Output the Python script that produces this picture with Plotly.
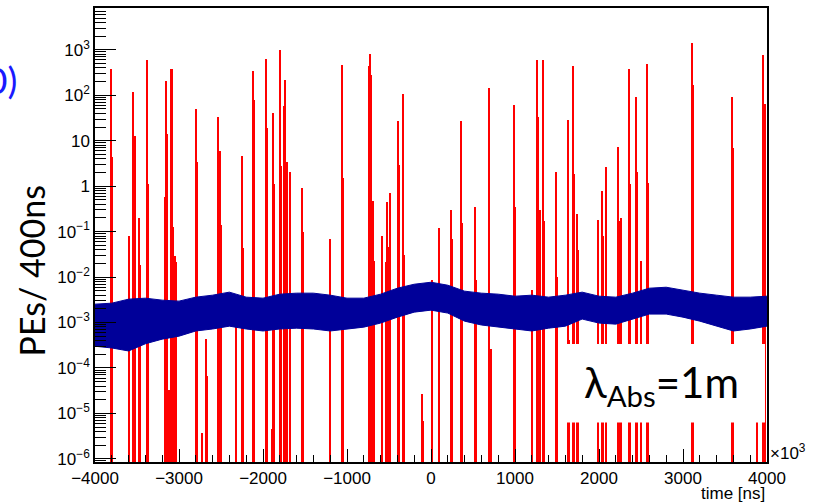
import plotly.graph_objects as go

# ---- data ----
# red histogram: isolated filled bins (time in ns, PEs per bin)
spike_time = [-3813, -3802, -3591, -3544, -3528, -3480, -3468, -3385, -3373, -3171,
              -3155, -3139, -3123, -3099, -3083, -3067, -3052, -3036, -2798, -2786,
              -2722, -2683, -2671, -2540, -2524, -2508, -2496, -2325, -2250, -2238,
              -2123, -2111, -1968, -1952, -1889, -1877, -1865, -1794, -1782, -1746,
              -1734, -1718, -1675, -1532, -1520, -1202, -1056, -1044, -742, -726,
              -710, -695, -679, -583, -540, -524, -508, -492, -397, -381,
              -337, -325, -111, -95, 8, 95, 238, 250, 353, 365,
              524, 540, 694, 710, 984, 996, 1202, 1258, 1270, 1301,
              1329, 1345, 1488, 1500, 1631, 1643, 1686, 1702, 1734, 1746,
              1992, 2032, 2044, 2079, 2222, 2234, 2266, 2353, 2365, 2436,
              2448, 2496, 2567, 2579, 3103, 3115, 3587, 3599, 3881, 3956,
              3972]
spike_pe = [384, 4.4, 0.079, 118, 13, 0.198, 0.0188, 584, 1.1, 0.59,
            206, 14, 3.2e-5, 384, 384, 0.126, 0.029, 0.021, 51, 3.45,
            3.7e-6, 4.3e-4, 6.7e-5, 33, 3.2, 6.0, 0.137, 1.64e-3, 4.7, 0.043,
            341, 78, 614, 18.6, 4.5e-6, 40, 1.1, 1000, 2.8, 57,
            220, 3.45, 2.1, 0.9, 0.096, 0.07, 454, 1.54, 431, 790,
            273, 0.48, 0.023, 0.079, 0.021, 0.44, 0.045, 0.72, 27, 2.9,
            105, 0.031, 2.7e-5, 6.9e-6, 8.8e-3, 0.12, 0.30, 0.07, 27, 0.154,
            0.34, 8.8e-3, 145, 2.6e-4, 60, 0.34, 5.3e-3, 584, 33, 0.30,
            584, 0.17, 2.1, 9.9e-3, 29, 4.1e-4, 431, 1.85, 0.25, 0.040,
            0.18, 0.79, 0.079, 2.7, 7.1, 0.17, 0.2, 384, 1.1, 92,
            2.0, 0.023, 493, 1.2, 1400, 171, 92, 6.8, 4.4e-5, 751,
            63]

# blue histogram: upper / lower envelope of the noise band
band_time = list(range(-4000, 4001, 200))
band_hi = [2.53e-3, 2.66e-3, 3.26e-3, 3.43e-3, 3.10e-3, 2.95e-3, 3.61e-3, 3.99e-3, 4.65e-3, 3.61e-3,
           3.43e-3, 4.20e-3, 4.42e-3, 4.42e-3, 3.99e-3, 3.43e-3, 3.43e-3, 4.20e-3, 5.68e-3, 6.95e-3,
           7.69e-3, 6.61e-3, 4.89e-3, 4.42e-3, 4.20e-3, 3.79e-3, 3.99e-3, 3.61e-3, 3.99e-3, 4.65e-3,
           3.79e-3, 3.61e-3, 4.42e-3, 5.68e-3, 5.97e-3, 5.13e-3, 4.42e-3, 3.99e-3, 3.61e-3, 3.61e-3,
           3.79e-3]
band_lo = [3.0e-4, 2.75e-4, 2.36e-4, 3.4e-4, 4.3e-4, 5.0e-4, 6.5e-4, 7.2e-4, 8.3e-4, 7.2e-4,
           6.5e-4, 7.2e-4, 7.5e-4, 7.2e-4, 6.5e-4, 7.2e-4, 7.9e-4, 9.7e-4, 1.31e-3, 1.69e-3,
           1.87e-3, 1.61e-3, 1.07e-3, 8.8e-4, 7.9e-4, 7.2e-4, 6.5e-4, 7.5e-4, 8.3e-4, 1.19e-3,
           9.7e-4, 9.2e-4, 1.19e-3, 1.53e-3, 1.53e-3, 1.31e-3, 1.07e-3, 8.3e-4, 6.5e-4, 7.2e-4,
           8.3e-4]

x_tick_vals = [-4000, -3000, -2000, -1000, 0, 1000, 2000, 3000, 4000]
x_tick_text = ["\u22124000", "\u22123000", "\u22122000", "\u22121000", "0", "1000", "2000", "3000", "4000"]
y_tick_vals = [1e-6, 1e-5, 1e-4, 1e-3, 1e-2, 1e-1, 1, 10, 1e2, 1e3]
y_tick_text = ["10<sup>\u22126</sup>", "10<sup>\u22125</sup>", "10<sup>\u22124</sup>", "10<sup>\u22123</sup>",
               "10<sup>\u22122</sup>", "10<sup>\u22121</sup>", "1", "10", "10<sup>2</sup>", "10<sup>3</sup>"]

RED = "#ff0000"
BLUE = "#000099"
TICKFONT = dict(family="Liberation Sans, Arial, sans-serif", size=17, color="black")

fig = go.Figure()
fig.add_trace(go.Bar(x=spike_time, y=spike_pe, width=14, marker=dict(color=RED, line=dict(width=0)),
                     showlegend=False, hoverinfo="skip"))
fig.add_trace(go.Scatter(x=band_time, y=band_lo, mode="lines", line=dict(color=BLUE, width=1),
                         showlegend=False, hoverinfo="skip"))
fig.add_trace(go.Scatter(x=band_time, y=band_hi, mode="lines", line=dict(color=BLUE, width=1),
                         fill="tonexty", fillcolor=BLUE, showlegend=False, hoverinfo="skip"))

minor_x = [v for v in range(-4000, 4001, 200) if v % 1000 != 0]
minor_y = [k * 10.0 ** e for e in range(-7, 4) for k in range(2, 10)]

fig.update_layout(
    width=817, height=502,
    margin=dict(l=95, r=50, t=6, b=40),
    paper_bgcolor="white", plot_bgcolor="white",
    bargap=0,
    xaxis=dict(range=[-4000, 4000], tickmode="array", tickvals=x_tick_vals, ticktext=x_tick_text,
               ticks="inside", ticklen=13, tickwidth=1, tickcolor="black",
               minor=dict(tickmode="array", tickvals=minor_x, ticks="inside", ticklen=7,
                          tickwidth=1, tickcolor="black"),
               showline=True, linecolor="black", linewidth=1.5, mirror=True,
               showgrid=False, zeroline=False, tickfont=TICKFONT),
    yaxis=dict(type="log", range=[-6.07, 3.92], tickmode="array", tickvals=y_tick_vals, ticktext=y_tick_text,
               ticks="inside", ticklen=21, tickwidth=1, tickcolor="black",
               minor=dict(tickmode="array", tickvals=minor_y, ticks="inside", ticklen=11,
                          tickwidth=1, tickcolor="black"),
               showline=True, linecolor="black", linewidth=1.5, mirror=True,
               showgrid=False, zeroline=False, tickfont=TICKFONT),
    shapes=[dict(type="rect", xref="paper", yref="paper", x0=0.692, x1=0.997, y0=0.087, y1=0.260,
                 fillcolor="white", line=dict(width=0), layer="above")],
    annotations=[
        dict(text="0)", xref="paper", yref="paper", x=-0.113, y=0.842, xanchor="right", yanchor="middle",
             showarrow=False, font=dict(family="Lato, sans-serif", size=37, color="#1a1aff")),
        dict(text="PEs/ 400ns", xref="paper", yref="paper", x=-0.095, y=0.42, xanchor="center",
             yanchor="middle", textangle=-90, showarrow=False,
             font=dict(family="Lato, sans-serif", size=34, color="black")),
        dict(text="\u03bb<sub>Abs</sub>=1m", xref="paper", yref="paper", x=0.843, y=0.17,
             xanchor="center", yanchor="middle", showarrow=False,
             font=dict(family="Lato, sans-serif", size=42, color="black")),
        dict(text="\u00d710<sup>3</sup>", xref="paper", yref="paper", x=1.0015, y=0.021,
             xanchor="left", yanchor="middle", showarrow=False, font=TICKFONT),
        dict(text="time [ns]", xref="paper", yref="paper", x=1.0, y=-0.0686,
             xanchor="right", yanchor="middle", showarrow=False, font=TICKFONT),
    ],
)

fig.write_html("out.html")
